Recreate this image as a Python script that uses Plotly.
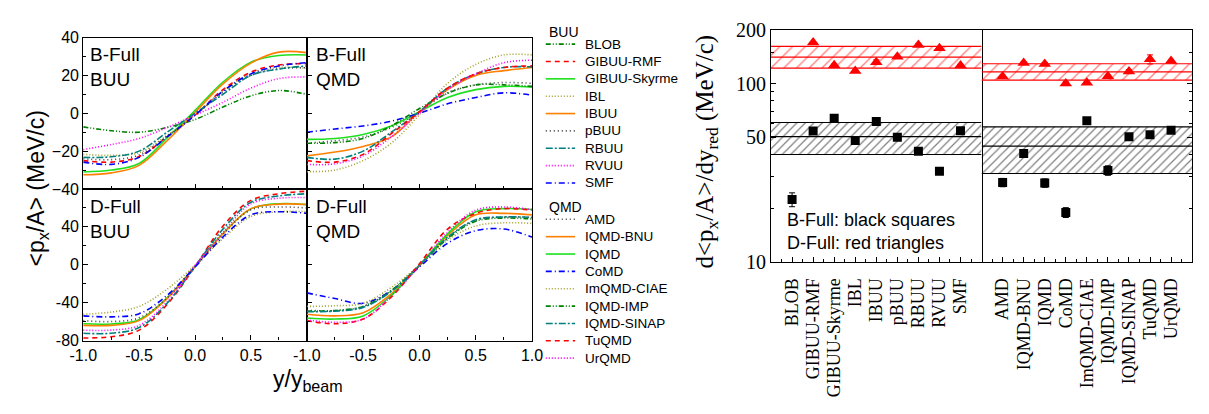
import plotly.graph_objects as go

# ---------------- data ----------------
y_red = [-1.0, -0.75, -0.5, -0.25, 0.0, 0.25, 0.5, 0.75, 1.0]

BUU_MODELS = ["BLOB", "GIBUU-RMF", "GIBUU-Skyrme", "IBL", "IBUU", "pBUU", "RBUU", "RVUU", "SMF"]
QMD_MODELS = ["AMD", "IQMD-BNU", "IQMD", "CoMD", "ImQMD-CIAE", "IQMD-IMP", "IQMD-SINAP", "TuQMD", "UrQMD"]

bfull_buu = {
    "BLOB":         [-7.2, -9.2, -10.0, -7.5, -3.3, 3.3, 9.2, 12.0, 10.0],
    "GIBUU-RMF":    [-25.0, -25.8, -22.8, -12.5, -1.0, 12.5, 21.7, 25.5, 26.2],
    "GIBUU-Skyrme": [-31.0, -30.0, -26.5, -13.0, 1.5, 16.5, 27.0, 30.5, 30.8],
    "IBL":          [-21.7, -22.2, -20.8, -11.7, -1.0, 11.7, 20.8, 24.2, 23.8],
    "IBUU":         [-32.5, -31.5, -27.5, -14.5, 0.5, 15.5, 26.5, 32.3, 32.0],
    "pBUU":         [-24.0, -24.5, -22.0, -12.0, -1.0, 11.0, 20.0, 23.5, 24.0],
    "RBUU":         [-23.3, -23.0, -20.0, -10.0, 0.0, 10.0, 20.0, 23.3, 25.0],
    "RVUU":         [-19.2, -16.5, -13.3, -7.5, -1.0, 5.8, 13.3, 18.3, 19.2],
    "SMF":          [-25.8, -27.0, -23.3, -12.5, -1.0, 11.7, 20.8, 25.0, 26.7],
}
dfull_buu = {
    "GIBUU-RMF":    [-77.3, -76.0, -69.0, -42.0, -2.0, 41.0, 68.0, 75.0, 77.7],
    "GIBUU-Skyrme": [-62.3, -62.5, -58.0, -35.0, -1.5, 33.0, 59.0, 64.5, 63.5],
    "IBL":          [-52.3, -50.0, -44.0, -25.7, -0.7, 27.7, 51.0, 56.0, 56.0],
    "IBUU":         [-64.0, -64.0, -59.0, -35.7, -1.7, 32.7, 59.3, 64.0, 63.7],
    "pBUU":         [-59.0, -60.0, -56.0, -35.0, -2.0, 32.0, 58.0, 61.0, 60.0],
    "RBUU":         [-72.3, -72.3, -66.3, -40.7, -1.7, 37.7, 66.0, 72.7, 75.0],
    "RVUU":         [-69.0, -69.0, -64.0, -39.0, -0.7, 34.3, 64.3, 70.3, 71.0],
    "SMF":          [-54.0, -55.0, -51.7, -32.3, -2.3, 29.3, 52.7, 56.0, 54.3],
}
bfull_qmd = {
    "AMD":        [-15.8, -14.5, -12.5, -7.5, 0.8, 10.8, 15.0, 16.2, 15.8],
    "IQMD-BNU":   [-22.5, -20.5, -17.5, -12.5, 0.8, 12.5, 20.0, 22.5, 24.2],
    "IQMD":       [-13.8, -13.3, -11.2, -6.7, 0.8, 8.3, 12.5, 14.2, 13.8],
    "CoMD":       [-10.0, -8.3, -6.7, -4.2, 0.0, 5.0, 8.3, 10.8, 9.5],
    "ImQMD-CIAE": [-30.8, -30.0, -25.0, -15.8, -0.8, 15.8, 25.8, 30.8, 30.8],
    "IQMD-IMP":   [-15.8, -15.5, -13.3, -6.7, 2.5, 10.5, 15.0, 15.0, 14.2],
    "IQMD-SINAP": [-23.3, -24.2, -20.0, -10.0, 0.8, 13.3, 20.8, 24.2, 24.5],
    "TuQMD":      [-25.0, -25.8, -21.7, -10.8, 0.8, 13.3, 20.8, 24.2, 25.0],
    "UrQMD":      [-27.0, -26.7, -22.5, -12.5, 0.0, 12.5, 20.8, 26.7, 28.0],
}
dfull_qmd = {
    "AMD":        [-48.0, -48.5, -44.0, -27.5, -0.7, 28.0, 47.0, 50.3, 50.0],
    "IQMD-BNU":   [-52.3, -54.0, -50.7, -30.7, -0.7, 31.0, 52.7, 54.3, 52.7],
    "IQMD":       [-56.3, -57.3, -54.0, -32.3, -0.7, 32.7, 56.0, 59.3, 58.3],
    "CoMD":       [-29.7, -35.7, -40.7, -27.3, -2.3, 22.7, 36.0, 37.7, 29.3],
    "ImQMD-CIAE": [-44.0, -43.3, -40.7, -24.0, -0.7, 26.0, 41.0, 44.3, 43.7],
    "IQMD-IMP":   [-49.0, -48.3, -44.0, -27.3, -0.7, 27.7, 46.0, 49.3, 48.3],
    "IQMD-SINAP": [-49.5, -49.0, -45.0, -28.0, -0.5, 29.0, 47.5, 50.5, 50.0],
    "TuQMD":      [-59.0, -62.3, -57.3, -34.0, 1.0, 37.7, 54.3, 59.3, 57.7],
    "UrQMD":      [-58.3, -60.7, -57.3, -33.0, -0.7, 34.3, 57.7, 61.0, 58.3],
}

# slopes d<px/A>/dy_red
slope_bfull_buu = [22.4, 54.2, 63.9, 48.0, 61.3, 50.0, 41.7, 32.2, 54.4]
slope_bfull_buu_err = [2.0, 1.0, 1.0, 1.0, 1.0, 1.0, 1.0, 0.8, 1.0]
slope_dfull_buu = [None, 170.0, 126.7, 117.6, 131.9, 141.4, 164.5, 157.8, 126.2]
slope_dfull_buu_err = [None, 2.0, 2.0, 2.0, 4.0, 2.0, 2.0, 2.0, 2.0]
slope_bfull_qmd = [27.9, 40.6, 27.7, 18.95, 62.0, 32.6, 50.4, 51.7, 54.7]
slope_bfull_qmd_err = [1.5, 1.0, 1.5, 1.2, 2.5, 2.0, 1.5, 1.5, 1.5]
slope_dfull_qmd = [109.5, 130.4, 128.8, 100.0, 101.2, 110.0, 116.8, 136.9, 134.0]
slope_dfull_qmd_err = [2.0, 2.0, 2.0, 2.5, 2.0, 2.0, 3.0, 8.0, 2.0]

# bands: [mean, low, high]
band_bfull_buu = [50.4, 40.0, 60.5]
band_dfull_buu = [140.8, 122.2, 161.8]
band_bfull_qmd = [44.6, 31.3, 57.2]
band_dfull_qmd = [116.3, 104.6, 129.3]

# ---------------- styles ----------------
GREEN_D = "#008000"
LIME = "#1ee01e"
OLIVE = "#a0a028"
ORANGE = "#ff8000"
TEAL = "#008080"
MAGENTA = "#ff00ff"
BLUE = "#0000ff"
RED = "#ff0000"
GREY = "#404040"

DASHDOTDOT = "5px,2px,1px,2px,1px,2px"
DASHDOT = "6px,3px,1px,3px"
DASHDOT2 = "7px,2px,2px,2px"
DOT = "1px,2px"
DASH = "5px,4px"

style = {
    "BLOB": (GREEN_D, DASHDOTDOT), "GIBUU-RMF": (RED, DASH), "GIBUU-Skyrme": (LIME, "solid"),
    "IBL": (OLIVE, DOT), "IBUU": (ORANGE, "solid"), "pBUU": (GREY, "1px,3px"),
    "RBUU": (TEAL, DASHDOT2), "RVUU": (MAGENTA, DOT), "SMF": (BLUE, DASHDOT),
    "AMD": (GREY, "1px,3px"), "IQMD-BNU": (ORANGE, "solid"), "IQMD": (LIME, "solid"),
    "CoMD": (BLUE, DASHDOT), "ImQMD-CIAE": (OLIVE, DOT), "IQMD-IMP": (GREEN_D, DASHDOTDOT),
    "IQMD-SINAP": (TEAL, DASHDOT2), "TuQMD": (RED, DASH), "UrQMD": (MAGENTA, DOT),
}

W, H = 1209, 414
def fx(p):
    return p / W
def fy(p):
    return 1 - p / H

SANS = "Liberation Sans, Arial, sans-serif"
SERIF = "Liberation Serif, Times New Roman, serif"

fig = go.Figure()

# ---------------- left: curves ----------------
panels = [
    (bfull_buu, BUU_MODELS, "x", "y"),
    (bfull_qmd, QMD_MODELS, "x2", "y2"),
    (dfull_buu, BUU_MODELS, "x3", "y3"),
    (dfull_qmd, QMD_MODELS, "x4", "y4"),
]
for data, models, xa, ya in panels:
    for m in models:
        if m not in data:
            continue
        col, dash = style[m]
        fig.add_trace(go.Scatter(
            x=y_red, y=data[m], mode="lines", name=m, xaxis=xa, yaxis=ya,
            line=dict(color=col, dash=dash, width=1.6, shape="spline", smoothing=1.0),
            showlegend=False,
        ))

# ---------------- legend (drawn on a hidden pixel-unit axis) ----------------
ann = []
LEG_SAMPLE = [543, 573]
LEG_TEXT_X = 581
LEG_ROW = 18.33
groups = [("BUU", BUU_MODELS, 22.7, 35.0), ("QMD", QMD_MODELS, 206.7, 220.0)]
for title, models, ty, y0 in groups:
    ann.append(dict(text=title, x=LEG_SAMPLE[0] + 1, y=ty, xref="x7", yref="y7", xanchor="left",
                    yanchor="middle", showarrow=False, font=dict(family=SANS, size=14, color="black")))
    for k, m in enumerate(models):
        col, dash = style[m]
        yy = y0 + LEG_ROW * k
        fig.add_trace(go.Scatter(x=LEG_SAMPLE, y=[yy, yy], mode="lines", xaxis="x7", yaxis="y7",
                                 line=dict(color=col, dash=dash, width=1.6), showlegend=False,
                                 hoverinfo="skip"))
        ann.append(dict(text=m, x=LEG_TEXT_X, y=yy, xref="x7", yref="y7", xanchor="left",
                        yanchor="middle", showarrow=False, font=dict(family=SANS, size=13.5, color="black")))

# ---------------- right: slopes ----------------
def add_band(band, color, xa, ya, n, hatch_size, solidity):
    xr = [-1, n]
    mean, lo, hi = band
    fig.add_trace(go.Scatter(
        x=[xr[0], xr[1], xr[1], xr[0], xr[0]], y=[lo, lo, hi, hi, lo],
        mode="lines", fill="toself", line=dict(width=0), fillcolor="rgba(0,0,0,0)",
        fillpattern=dict(shape="/", fgcolor=color, bgcolor="rgba(0,0,0,0)", size=hatch_size, solidity=solidity),
        xaxis=xa, yaxis=ya, showlegend=False, hoverinfo="skip"))
    for v in (lo, mean, hi):
        fig.add_trace(go.Scatter(x=xr, y=[v, v], mode="lines", line=dict(color=color, width=1.1),
                                 xaxis=xa, yaxis=ya, showlegend=False, hoverinfo="skip"))

add_band(band_bfull_buu, "black", "x5", "y5", len(BUU_MODELS), 6, 0.2)
add_band(band_dfull_buu, "red", "x5", "y5", len(BUU_MODELS), 9, 0.15)
add_band(band_bfull_qmd, "black", "x6", "y6", len(QMD_MODELS), 6, 0.2)
add_band(band_dfull_qmd, "red", "x6", "y6", len(QMD_MODELS), 9, 0.15)

for models, sq, sqe, tri, trie, xa, ya in [
    (BUU_MODELS, slope_bfull_buu, slope_bfull_buu_err, slope_dfull_buu, slope_dfull_buu_err, "x5", "y5"),
    (QMD_MODELS, slope_bfull_qmd, slope_bfull_qmd_err, slope_dfull_qmd, slope_dfull_qmd_err, "x6", "y6"),
]:
    idx = list(range(len(models)))
    fig.add_trace(go.Scatter(
        x=idx, y=sq, mode="markers", xaxis=xa, yaxis=ya, showlegend=False,
        marker=dict(symbol="square", size=9, color="black"),
        error_y=dict(type="data", array=sqe, color="black", thickness=1, width=3)))
    fig.add_trace(go.Scatter(
        x=idx, y=tri, mode="markers", xaxis=xa, yaxis=ya, showlegend=False,
        marker=dict(symbol="triangle-up", size=11, color="red"),
        error_y=dict(type="data", array=trie, color="red", thickness=1, width=3)))

# ---------------- axes ----------------
ax_common = dict(showline=True, linecolor="black", linewidth=1.2, mirror=True, ticks="inside",
                 tickcolor="black", ticklen=5, showgrid=False, zeroline=False)

xL = [fx(70.7), fx(299)]
xR = [fx(299), fx(529)]
yT = [fy(188), fy(28)]
yB = [fy(348), fy(188)]

x_tickvals = [-1.0, -0.5, 0.0, 0.5, 1.0]
x_ticktext_left = ["-1.0", "-0.5", "0.0", "0.5", " "]
x_ticktext_right = ["-1.0", "-0.5", "0.0", "0.5", "1.0"]
yT_vals = [-40, -20, 0, 20, 40]
yB_vals = [-80, -40, 0, 40, 80]
yB_text = ["-80", "-40", "0", "40", " "]

xminor = dict(tickmode="linear", tick0=0, dtick=0.25, ticks="inside", ticklen=3, tickcolor="black")
tf = dict(family=SANS, size=16, color="black")

fig.update_layout(
    xaxis=dict(domain=xL, anchor="y", range=[-1, 1], tickvals=x_tickvals, showticklabels=False, minor=xminor, **ax_common),
    xaxis2=dict(domain=xR, anchor="y2", range=[-1, 1], tickvals=x_tickvals, showticklabels=False, minor=xminor, **ax_common),
    xaxis3=dict(domain=xL, anchor="y3", range=[-1, 1], tickvals=x_tickvals, ticktext=x_ticktext_left, tickfont=tf, minor=xminor, **ax_common),
    xaxis4=dict(domain=xR, anchor="y4", range=[-1, 1], tickvals=x_tickvals, ticktext=x_ticktext_right, tickfont=tf, minor=xminor, **ax_common),
    yaxis=dict(domain=yT, anchor="x", range=[-40, 40], tickvals=yT_vals, tickfont=tf,
               minor=dict(tickmode="linear", tick0=0, dtick=10, ticks="inside", ticklen=3, tickcolor="black"), **ax_common),
    yaxis2=dict(domain=yT, anchor="x2", range=[-40, 40], tickvals=yT_vals, showticklabels=False,
                minor=dict(tickmode="linear", tick0=0, dtick=10, ticks="inside", ticklen=3, tickcolor="black"), **ax_common),
    yaxis3=dict(domain=yB, anchor="x3", range=[-80, 80], tickvals=yB_vals, ticktext=yB_text, tickfont=tf,
                minor=dict(tickmode="linear", tick0=0, dtick=20, ticks="inside", ticklen=3, tickcolor="black"), **ax_common),
    yaxis4=dict(domain=yB, anchor="x4", range=[-80, 80], tickvals=yB_vals, showticklabels=False,
                minor=dict(tickmode="linear", tick0=0, dtick=20, ticks="inside", ticklen=3, tickcolor="black"), **ax_common),
    xaxis7=dict(domain=[0, 1], anchor="y7", range=[0, W], visible=False, fixedrange=True),
    yaxis7=dict(domain=[0, 1], anchor="x7", range=[H, 0], visible=False, fixedrange=True),
)

xP = [fx(773), fx(988)]
xQ = [fx(988), fx(1203)]
yS = [fy(265), fy(20)]
log_minor = [20, 30, 40, 60, 70, 80, 90, 150]
cat_minor = dict(tickmode="linear", tick0=-0.5, dtick=1, ticks="inside", ticklen=3, tickcolor="black")
catfont = dict(family=SERIF, size=18, color="black")
ax_r = dict(showline=True, linecolor="black", linewidth=1.2, showgrid=False, zeroline=False,
            ticks="inside", tickcolor="black", ticklen=5)

fig.update_layout(
    xaxis5=dict(domain=xP, anchor="y5", range=[-1, len(BUU_MODELS)], tickvals=list(range(len(BUU_MODELS))),
                ticktext=BUU_MODELS, tickangle=-90, tickfont=catfont, mirror=True, minor=cat_minor,
                ticklabelstandoff=8, **ax_r),
    xaxis6=dict(domain=xQ, anchor="y6", range=[-1, len(QMD_MODELS)], tickvals=list(range(len(QMD_MODELS))),
                ticktext=QMD_MODELS, tickangle=-90, tickfont=catfont, mirror=True, minor=cat_minor,
                ticklabelstandoff=8, **ax_r),
    yaxis5=dict(domain=yS, anchor="x5", type="log", range=[1, 2.30103], tickvals=[10, 50, 100, 200],
                ticktext=["10", "50", "100", "200"], tickfont=dict(family=SERIF, size=20, color="black"),
                mirror=True, minor=dict(tickmode="array", tickvals=log_minor, ticks="inside", ticklen=3, tickcolor="black"),
                **ax_r),
    yaxis6=dict(domain=yS, anchor="x6", type="log", range=[1, 2.30103], tickvals=[10, 50, 100, 200],
                side="right", showticklabels=False, mirror=False,
                minor=dict(tickmode="array", tickvals=log_minor, ticks="inside", ticklen=3, tickcolor="black"),
                **ax_r),
)

# ---------------- annotations ----------------
for txt, xp, yp in [("B-Full<br>BUU", 76, 33), ("B-Full<br>QMD", 306, 33),
                    ("D-Full<br>BUU", 76, 193), ("D-Full<br>QMD", 306, 193)]:
    ann.append(dict(text=txt, x=fx(xp), y=fy(yp), xref="paper", yref="paper", xanchor="left", yanchor="top",
                    showarrow=False, align="left", font=dict(family=SANS, size=19, color="black")))
ann.append(dict(text="&lt;p<sub>x</sub>/A&gt; (MeV/c)", x=fx(24), y=fy(188), xref="paper", yref="paper",
                textangle=-90, showarrow=False, xanchor="center", yanchor="middle",
                font=dict(family=SANS, size=23, color="black")))
ann.append(dict(text="y/y<sub>beam</sub>", x=fx(300), y=fy(390), xref="paper", yref="paper",
                showarrow=False, xanchor="center", yanchor="middle",
                font=dict(family=SANS, size=23, color="black")))
ann.append(dict(text="d&lt;p<sub>x</sub>/A&gt;/dy<sub>red</sub> (MeV/c)", x=fx(707), y=fy(148), xref="paper", yref="paper",
                textangle=-90, showarrow=False, xanchor="center", yanchor="middle",
                font=dict(family=SERIF, size=25, color="black")))
ann.append(dict(text="B-Full: black squares", x=fx(787), y=fy(221), xref="paper", yref="paper",
                showarrow=False, xanchor="left", yanchor="middle", font=dict(family=SANS, size=18, color="black")))
ann.append(dict(text="D-Full: red triangles", x=fx(787), y=fy(245), xref="paper", yref="paper",
                showarrow=False, xanchor="left", yanchor="middle", font=dict(family=SANS, size=18, color="black")))

fig.update_layout(
    width=W, height=H, margin=dict(l=0, r=0, t=0, b=0),
    paper_bgcolor="white", plot_bgcolor="rgba(0,0,0,0)",
    annotations=ann, showlegend=False,
)

fig.write_html("out.html")
